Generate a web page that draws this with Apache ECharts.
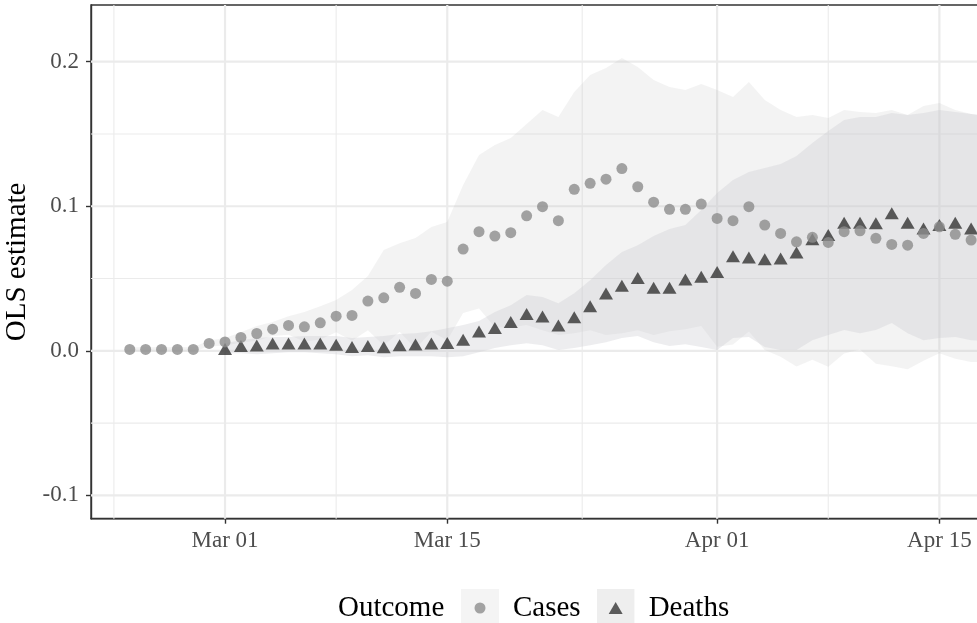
<!DOCTYPE html>
<html>
<head>
<meta charset="utf-8">
<title>OLS estimate by outcome</title>
<script src="https://cdn.jsdelivr.net/npm/echarts@6/dist/echarts.min.js"></script>
<style>
  html, body { margin: 0; padding: 0; background: #ffffff; }
  #chart { width: 977px; height: 623px; }
</style>
</head>
<body>
<div id="chart"></div>
<script>
// Daily dates (Feb 24 – Apr 18, 2020)
const dates = [
  '2020-02-24','2020-02-25','2020-02-26','2020-02-27','2020-02-28','2020-02-29',
  '2020-03-01','2020-03-02','2020-03-03','2020-03-04','2020-03-05','2020-03-06','2020-03-07','2020-03-08',
  '2020-03-09','2020-03-10','2020-03-11','2020-03-12','2020-03-13','2020-03-14','2020-03-15',
  '2020-03-16','2020-03-17','2020-03-18','2020-03-19','2020-03-20','2020-03-21','2020-03-22','2020-03-23',
  '2020-03-24','2020-03-25','2020-03-26','2020-03-27','2020-03-28','2020-03-29','2020-03-30','2020-03-31',
  '2020-04-01','2020-04-02','2020-04-03','2020-04-04','2020-04-05','2020-04-06','2020-04-07','2020-04-08',
  '2020-04-09','2020-04-10','2020-04-11','2020-04-12','2020-04-13','2020-04-14','2020-04-15','2020-04-16',
  '2020-04-17','2020-04-18'
];

// Point estimates
const cases = [
  0.0010, 0.0010, 0.0010, 0.0010, 0.0010, 0.0051,
  0.0062, 0.0093, 0.0120, 0.0150, 0.0176, 0.0166, 0.0194, 0.0240, 0.0245, 0.0344, 0.0367, 0.0439, 0.0397, 0.0494, 0.0482,
  0.0704, 0.0824, 0.0794, 0.0817, 0.0934, 0.0997, 0.0900, 0.1117, 0.1159, 0.1187, 0.1261, 0.1135, 0.1028, 0.0979, 0.0979, 0.1015,
  0.0916, 0.0900, 0.0997, 0.0870, 0.0812, 0.0754, 0.0785, 0.0750, 0.0824, 0.0830, 0.0778, 0.0736, 0.0731, 0.0812, 0.0858, 0.0806,
  0.0766, null
];
const deaths = [
  null, null, null, null, null, null,
  0.0012, 0.0034, 0.0037, 0.0051, 0.0051, 0.0051, 0.0051, 0.0042, 0.0026, 0.0034, 0.0024, 0.0039, 0.0044, 0.0050, 0.0055,
  0.0077, 0.0134, 0.0158, 0.0200, 0.0254, 0.0238, 0.0176, 0.0233, 0.0309, 0.0397, 0.0451, 0.0504, 0.0437, 0.0437, 0.0494, 0.0512,
  0.0545, 0.0655, 0.0646, 0.0633, 0.0639, 0.0681, 0.0771, 0.0801, 0.0886, 0.0886, 0.0882, 0.0951, 0.0886, 0.0847, 0.0870, 0.0886,
  0.0847, null
];

// Interval bounds
const casesLow = [
  -0.0004, -0.0004, -0.0004, -0.0004, -0.0004, 0.0030,
  0.0037, 0.0056, 0.0070, 0.0102, 0.0111, 0.0064, 0.0078, 0.0129, 0.0070, 0.0143, 0.0037, 0.0132, 0.0015, 0.0132, 0.0074,
  0.0261, 0.0293, 0.0164, 0.0161, 0.0178, 0.0143, 0.0109, 0.0122, 0.0143, 0.0109, 0.0122, 0.0143, 0.0109, 0.0136, 0.0150, 0.0171,
  0.0028, 0.0044, 0.0134, 0.0005, -0.0041, -0.0109, -0.0062, -0.0110, -0.0019, 0.0009, -0.0089, -0.0106, -0.0127, -0.0069, -0.0016, -0.0055,
  -0.0078, -0.0078
];
const casesHigh = [
  0.0024, 0.0024, 0.0024, 0.0024, 0.0024, 0.0072,
  0.0088, 0.0129, 0.0171, 0.0199, 0.0240, 0.0268, 0.0309, 0.0351, 0.0420, 0.0517, 0.0697, 0.0745, 0.0780, 0.0856, 0.0891,
  0.1147, 0.1354, 0.1424, 0.1472, 0.1569, 0.1666, 0.1617, 0.1790, 0.1908, 0.1956, 0.2026, 0.1963, 0.1873, 0.1825, 0.1804, 0.1846,
  0.1804, 0.1756, 0.1859, 0.1735, 0.1666, 0.1617, 0.1631, 0.1610, 0.1666, 0.1652, 0.1645, 0.1666, 0.1631, 0.1693, 0.1714, 0.1666,
  0.1638, 0.1624
];
const deathsLow = [
  null, null, null, null, null, null,
  -0.0016, -0.0016, -0.0023, -0.0016, -0.0009, -0.0009, -0.0016, -0.0023, -0.0037, -0.0030, -0.0044, -0.0037, -0.0037, -0.0037, -0.0044,
  -0.0037, -0.0009, 0.0019, 0.0039, 0.0053, 0.0039, 0.0005, 0.0019, 0.0039, 0.0060, 0.0088, 0.0102, 0.0060, 0.0033, 0.0046, 0.0026,
  0.0005, 0.0088, 0.0095, 0.0026, 0.0005, 0.0005, 0.0074, 0.0109, 0.0144, 0.0122, 0.0144, 0.0192, 0.0122, 0.0074, 0.0088, 0.0095,
  0.0074, 0.0067
];
const deathsHigh = [
  null, null, null, null, null, null,
  0.0053, 0.0074, 0.0088, 0.0095, 0.0095, 0.0102, 0.0102, 0.0102, 0.0088, 0.0095, 0.0102, 0.0116, 0.0122, 0.0136, 0.0157,
  0.0178, 0.0206, 0.0268, 0.0316, 0.0386, 0.0372, 0.0330, 0.0399, 0.0489, 0.0593, 0.0683, 0.0731, 0.0794, 0.0842, 0.0870, 0.0974,
  0.1091, 0.1181, 0.1237, 0.1264, 0.1292, 0.1347, 0.1437, 0.1520, 0.1597, 0.1617, 0.1617, 0.1645, 0.1631, 0.1645, 0.1666, 0.1652,
  0.1638, 0.1624
];

// Axis ticks
const xTickDates  = ['2020-03-01', '2020-03-15', '2020-04-01', '2020-04-15'];
const xTickLabels = ['Mar 01', 'Mar 15', 'Apr 01', 'Apr 15'];
const yTicks      = [-0.1, 0.0, 0.1, 0.2];

const FONT = "'Liberation Serif', 'DejaVu Serif', serif";
const ORIGIN = Date.UTC(2020, 2, 1);
function dayNum(s) {
  const [y, m, d] = s.split('-').map(Number);
  return (Date.UTC(y, m - 1, d) - ORIGIN) / 86400000;
}
const xs = dates.map(dayNum);
const xTickDays = xTickDates.map(dayNum);

const X_MIN = -8.442, X_MAX = 48.0;
const Y_MIN = -0.1161, Y_MAX = 0.2392;

// minor grid positions sit halfway between major ticks
function midpoints(t) {
  const out = [t[0] - (t[1] - t[0]) / 2];
  for (let i = 0; i < t.length - 1; i++) out.push((t[i] + t[i + 1]) / 2);
  out.push(t[t.length - 1] + (t[t.length - 1] - t[t.length - 2]) / 2);
  return out;
}
const xMinor = midpoints(xTickDays).filter(v => v > X_MIN && v < X_MAX);
const yMinor = midpoints(yTicks).filter(v => v > Y_MIN && v < Y_MAX);

function gridLines(axis, values, width) {
  return {
    type: 'custom', silent: true, z: 1,
    data: values.map(v => axis === 'x' ? [v, 0] : [0, v]),
    encode: { x: 0, y: 1 },
    renderItem(params, api) {
      const cs = params.coordSys;
      const p = api.coord([api.value(0), api.value(1)]);
      const shape = axis === 'x'
        ? { x1: p[0], y1: cs.y, x2: p[0], y2: cs.y + cs.height }
        : { x1: cs.x, y1: p[1], x2: cs.x + cs.width, y2: p[1] };
      return { type: 'line', shape, style: { stroke: '#ebebeb', lineWidth: width } };
    }
  };
}

function band(low, high, fill, z) {
  const pts = xs.map((x, i) => [x, low[i], high[i]]).filter(p => p[1] != null);
  return {
    type: 'custom', silent: true, z, clip: true,
    data: pts,
    encode: { x: 0, y: [1, 2] },
    renderItem(params, api) {
      if (params.dataIndex !== 0) return null;
      const upper = pts.map(p => api.coord([p[0], p[2]]));
      const lower = pts.map(p => api.coord([p[0], p[1]])).reverse();
      return { type: 'polygon', shape: { points: upper.concat(lower) }, style: { fill } };
    }
  };
}

function points(vals) {
  return xs.map((x, i) => [x, vals[i]]).filter(p => p[1] != null);
}

function keyIcon(bg, shape) {
  const svg = "<svg xmlns='http://www.w3.org/2000/svg' width='38' height='38'>" +
    "<rect width='38' height='38' fill='" + bg + "'/>" + shape + "</svg>";
  return 'image://data:image/svg+xml;charset=utf-8,' + encodeURIComponent(svg);
}
const casesIcon = keyIcon('#f2f2f2', "<circle cx='19' cy='19' r='5.5' fill='#8c8c8c'/>");
const deathsIcon = keyIcon('#ebebeb', "<polygon points='12,25 26,25 19,13' fill='#333333'/>");

const chart = echarts.init(document.getElementById('chart'), null, { renderer: 'canvas' });
chart.setOption({
  animation: false,
  backgroundColor: '#ffffff',
  title: {
    text: 'Outcome', left: 338, top: 594, padding: 0,
    textStyle: { fontFamily: FONT, fontSize: 29, fontWeight: 'normal', color: '#000000' }
  },
  legend: {
    left: 461, top: 589, padding: 0, itemWidth: 38, itemHeight: 38, itemGap: 16,
    selectedMode: false,
    data: [{ name: 'Cases', icon: casesIcon }, { name: 'Deaths', icon: deathsIcon }],
    textStyle: { fontFamily: FONT, fontSize: 29, color: '#000000', padding: [0, 0, 0, 9] }
  },
  grid: {
    left: 91, top: 5, right: -10, bottom: 104.3,
    outerBoundsMode: 'none', containLabel: false,
    show: true, borderColor: '#333333', borderWidth: 1.4, backgroundColor: 'transparent'
  },
  xAxis: {
    type: 'value', min: X_MIN, max: X_MAX,
    splitLine: { show: false },
    axisLine: { show: true, onZero: false, lineStyle: { color: '#333333', width: 1.4 } },
    axisTick: { show: true, length: 5, customValues: xTickDays, lineStyle: { color: '#333333', width: 1.4 } },
    axisLabel: {
      customValues: xTickDays, margin: 11,
      formatter: v => xTickLabels[xTickDays.indexOf(v)] || '',
      fontFamily: FONT, fontSize: 23, color: '#4d4d4d'
    }
  },
  yAxis: {
    type: 'value', min: Y_MIN, max: Y_MAX,
    name: 'OLS estimate', nameLocation: 'middle', nameGap: 50,
    nameTextStyle: { fontFamily: FONT, fontSize: 29, color: '#000000' },
    splitLine: { show: false },
    axisLine: { show: true, onZero: false, lineStyle: { color: '#333333', width: 1.4 } },
    axisTick: { show: true, length: 5, customValues: yTicks, lineStyle: { color: '#333333', width: 1.4 } },
    axisLabel: {
      customValues: yTicks, margin: 12,
      formatter: v => v.toFixed(1),
      fontFamily: FONT, fontSize: 23, color: '#4d4d4d'
    }
  },
  series: [
    gridLines('x', xMinor, 1.1),
    gridLines('y', yMinor, 1.1),
    gridLines('x', xTickDays, 2.2),
    gridLines('y', yTicks, 2.2),
    band(casesLow, casesHigh, 'rgba(190,190,190,0.18)', 2),
    band(deathsLow, deathsHigh, 'rgba(205,205,212,0.36)', 2),
    {
      name: 'Deaths', type: 'scatter', z: 3,
      symbol: 'triangle', symbolSize: [14, 12],
      itemStyle: { color: '#333333' },
      data: points(deaths)
    },
    {
      name: 'Cases', type: 'scatter', z: 4,
      symbol: 'circle', symbolSize: 11,
      itemStyle: { color: '#8c8c8c' },
      data: points(cases)
    }
  ]
});
</script>
</body>
</html>
